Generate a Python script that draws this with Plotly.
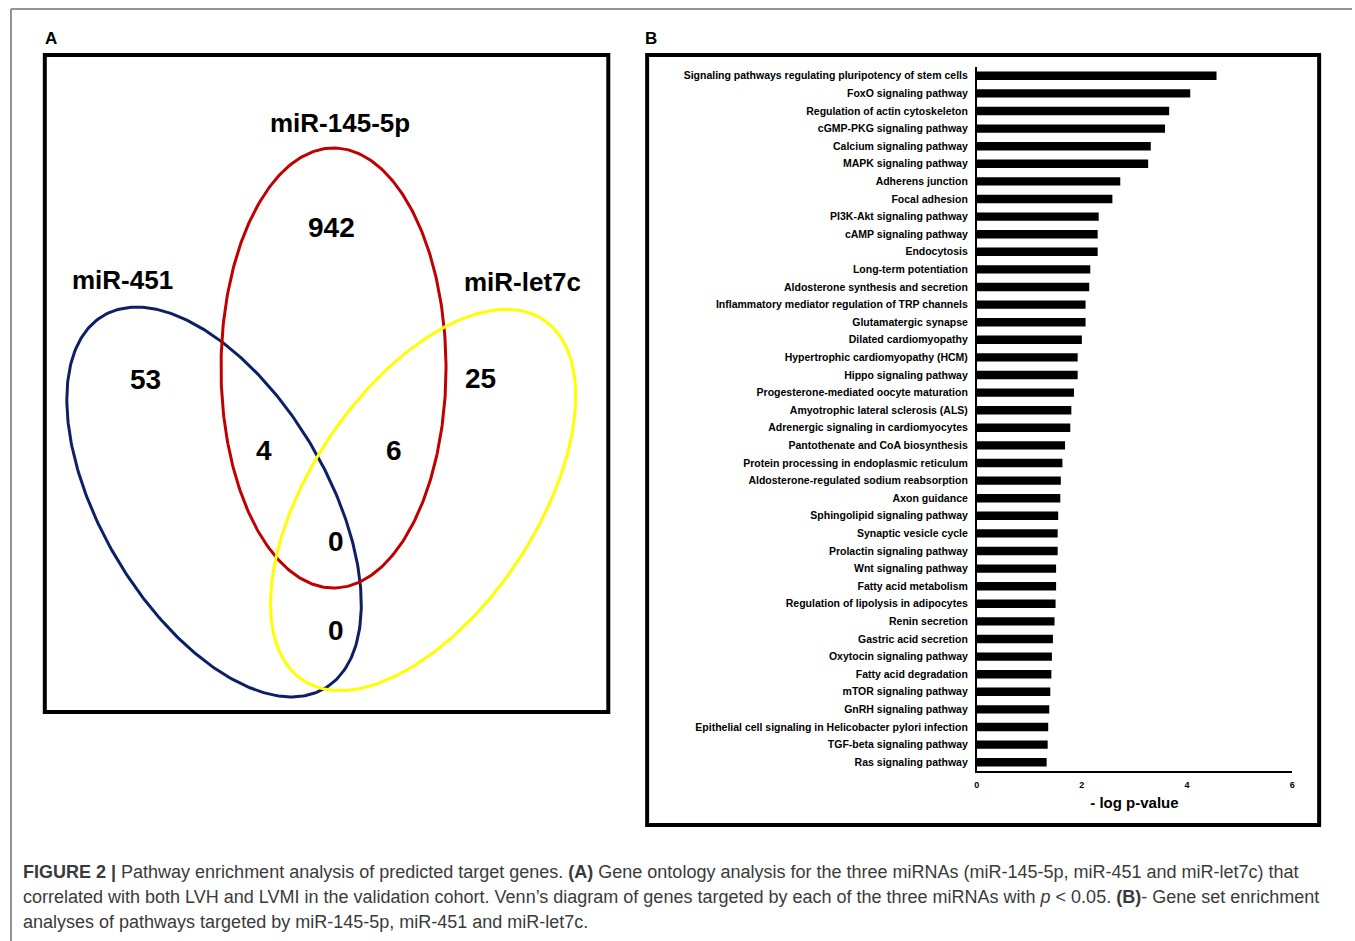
import numpy as np
import plotly.graph_objects as go

W, H = 1355, 941

# ---- Panel B data: pathway enrichment (-log p-value) ----
pathways = [
    "Signaling pathways regulating pluripotency of stem cells",
    "FoxO signaling pathway",
    "Regulation of actin cytoskeleton",
    "cGMP-PKG signaling pathway",
    "Calcium signaling pathway",
    "MAPK signaling pathway",
    "Adherens junction",
    "Focal adhesion",
    "PI3K-Akt signaling pathway",
    "cAMP signaling pathway",
    "Endocytosis",
    "Long-term potentiation",
    "Aldosterone synthesis and secretion",
    "Inflammatory mediator regulation of TRP channels",
    "Glutamatergic synapse",
    "Dilated cardiomyopathy",
    "Hypertrophic cardiomyopathy (HCM)",
    "Hippo signaling pathway",
    "Progesterone-mediated oocyte maturation",
    "Amyotrophic lateral sclerosis (ALS)",
    "Adrenergic signaling in cardiomyocytes",
    "Pantothenate and CoA biosynthesis",
    "Protein processing in endoplasmic reticulum",
    "Aldosterone-regulated sodium reabsorption",
    "Axon guidance",
    "Sphingolipid signaling pathway",
    "Synaptic vesicle cycle",
    "Prolactin signaling pathway",
    "Wnt signaling pathway",
    "Fatty acid metabolism",
    "Regulation of lipolysis in adipocytes",
    "Renin secretion",
    "Gastric acid secretion",
    "Oxytocin signaling pathway",
    "Fatty acid degradation",
    "mTOR signaling pathway",
    "GnRH signaling pathway",
    "Epithelial cell signaling in Helicobacter pylori infection",
    "TGF-beta signaling pathway",
    "Ras signaling pathway",
]
neg_log_p = [
    4.56, 4.06, 3.66, 3.58, 3.31, 3.26, 2.73, 2.58, 2.32, 2.30,
    2.30, 2.16, 2.14, 2.07, 2.07, 2.00, 1.92, 1.92, 1.85, 1.80,
    1.78, 1.68, 1.63, 1.60, 1.59, 1.55, 1.54, 1.54, 1.51, 1.51,
    1.50, 1.48, 1.45, 1.43, 1.42, 1.40, 1.38, 1.36, 1.35, 1.33,
]
x_ticks = [0, 2, 4, 6]

# ---- Panel A data: Venn diagram of targeted genes ----
mirnas = ["miR-451", "miR-145-5p", "miR-let7c"]
region_counts = {
    "miR-451 only": 53,
    "miR-145-5p only": 942,
    "miR-let7c only": 25,
    "miR-451 & miR-145-5p": 4,
    "miR-145-5p & miR-let7c": 6,
    "all three": 0,
    "miR-451 & miR-let7c": 0,
}

# Venn geometry (panel A local units, y downward)
ellipse_geom = {
    "miR-451":    dict(cx=170, cy=447, a=217, b=113, angle=59, color="#0d1f66"),
    "miR-145-5p": dict(cx=290, cy=313, a=220, b=113, angle=90, color="#c00000"),
    "miR-let7c":  dict(cx=380, cy=445, a=217, b=113, angle=-56, color="#ffff00"),
}
set_label_pos = {"miR-451": (78, 225), "miR-145-5p": (296, 68), "miR-let7c": (480, 227)}
region_label_pos = {
    "miR-451 only": (101, 324),
    "miR-145-5p only": (288, 172),
    "miR-let7c only": (438, 323),
    "miR-451 & miR-145-5p": (220, 395),
    "miR-145-5p & miR-let7c": (351, 395),
    "all three": (292, 486),
    "miR-451 & miR-let7c": (292, 575),
}

SANS = "Liberation Sans, Arial, Helvetica, sans-serif"

fig = go.Figure()

# bar chart
fig.add_trace(go.Bar(
    x=neg_log_p, y=pathways, orientation="h",
    marker=dict(color="black", line=dict(width=0)),
    width=0.48, xaxis="x", yaxis="y", showlegend=False,
))

# venn ellipses
t = np.linspace(0, 2 * np.pi, 361)
for name in mirnas:
    g = ellipse_geom[name]
    th = np.deg2rad(g["angle"])
    ex = g["cx"] + g["a"] * np.cos(th) * np.cos(t) - g["b"] * np.sin(th) * np.sin(t)
    ey = g["cy"] + g["a"] * np.sin(th) * np.cos(t) + g["b"] * np.cos(th) * np.sin(t)
    fig.add_trace(go.Scatter(
        x=ex, y=ey, mode="lines", line=dict(color=g["color"], width=3),
        xaxis="x2", yaxis="y2", showlegend=False, hoverinfo="skip",
    ))

annotations = []
for name in mirnas:
    px, py = set_label_pos[name]
    annotations.append(dict(x=px, y=py, xref="x2", yref="y2", text=name, showarrow=False,
                            font=dict(family=SANS, size=26, color="black", weight="bold")))
for region, count in region_counts.items():
    px, py = region_label_pos[region]
    annotations.append(dict(x=px, y=py, xref="x2", yref="y2", text=str(count), showarrow=False,
                            font=dict(family=SANS, size=28, color="black", weight="bold")))

# panel letters
for letter, px in (("A", 48), ("B", 651)):
    annotations.append(dict(x=px / W, y=1 - 39 / H, xref="paper", yref="paper", text=letter,
                            showarrow=False, xanchor="center", yanchor="middle",
                            font=dict(family=SANS, size=17, color="black", weight="bold")))

# caption
cap_font = dict(family=SANS, size=18, color="#3a3a3a")
caption_lines = [
    "<b>FIGURE 2 |</b> Pathway enrichment analysis of predicted target genes. <b>(A)</b> Gene ontology "
    "analysis for the three miRNAs (miR-145-5p, miR-451 and miR-let7c) that",
    "correlated with both LVH and LVMI in the validation cohort. Venn’s diagram of genes targeted by "
    "each of the three miRNAs with <i>p</i> &lt; 0.05. <b>(B)</b>- Gene set enrichment",
    "analyses of pathways targeted by miR-145-5p, miR-451 and miR-let7c.",
]
for i, line in enumerate(caption_lines):
    annotations.append(dict(x=18 / W, y=1 - (872 + 25 * i) / H, xref="paper", yref="paper",
                            text=line, showarrow=False, xanchor="left", yanchor="middle",
                            align="left", font=cap_font))

shapes = [
    # outer frame (top and left edges)
    dict(type="line", xref="paper", yref="paper", x0=8 / W, x1=1, y0=1 - 9 / H, y1=1 - 9 / H,
         line=dict(color="#707070", width=1.5)),
    dict(type="line", xref="paper", yref="paper", x0=8 / W, x1=8 / W, y0=1 - 9 / H, y1=0,
         line=dict(color="#707070", width=1.5)),
    # panel boxes
    dict(type="rect", xref="paper", yref="paper", x0=42 / W, x1=608 / W, y0=1 - 712 / H, y1=1 - 55 / H,
         line=dict(color="black", width=4)),
    dict(type="rect", xref="paper", yref="paper", x0=647 / W, x1=1322 / W, y0=1 - 825 / H, y1=1 - 55 / H,
         line=dict(color="black", width=4)),
]

fig.update_layout(
    width=W, height=H,
    margin=dict(l=0, r=0, t=0, b=0),
    paper_bgcolor="white", plot_bgcolor="rgba(0,0,0,0)",
    bargap=0.5,
    xaxis=dict(
        domain=[978 / W, 1295 / W], range=[0, 6], tickvals=x_ticks,
        showgrid=False, zeroline=False, showline=True, linecolor="black", linewidth=1.5,
        ticks="", ticklabelstandoff=4,
        tickfont=dict(family=SANS, size=9, color="black", weight="bold"),
        title=dict(text="- log p-value", standoff=9,
                   font=dict(family=SANS, size=15, color="black", weight="bold")),
        anchor="y", fixedrange=True,
    ),
    yaxis=dict(
        domain=[1 - 771 / H, 1 - 67 / H], autorange="reversed", type="category",
        showgrid=False, zeroline=False, showline=True, linecolor="black", linewidth=1.5,
        ticks="", ticklabelstandoff=5,
        tickfont=dict(family=SANS, size=10.5, color="black", weight="bold"),
        anchor="x", fixedrange=True,
    ),
    xaxis2=dict(domain=[42 / W, 608 / W], range=[0, 566], visible=False, anchor="y2", fixedrange=True),
    yaxis2=dict(domain=[1 - 712 / H, 1 - 55 / H], range=[657, 0], visible=False, anchor="x2", fixedrange=True),
    annotations=annotations,
    shapes=shapes,
)

fig.write_html("out.html")
